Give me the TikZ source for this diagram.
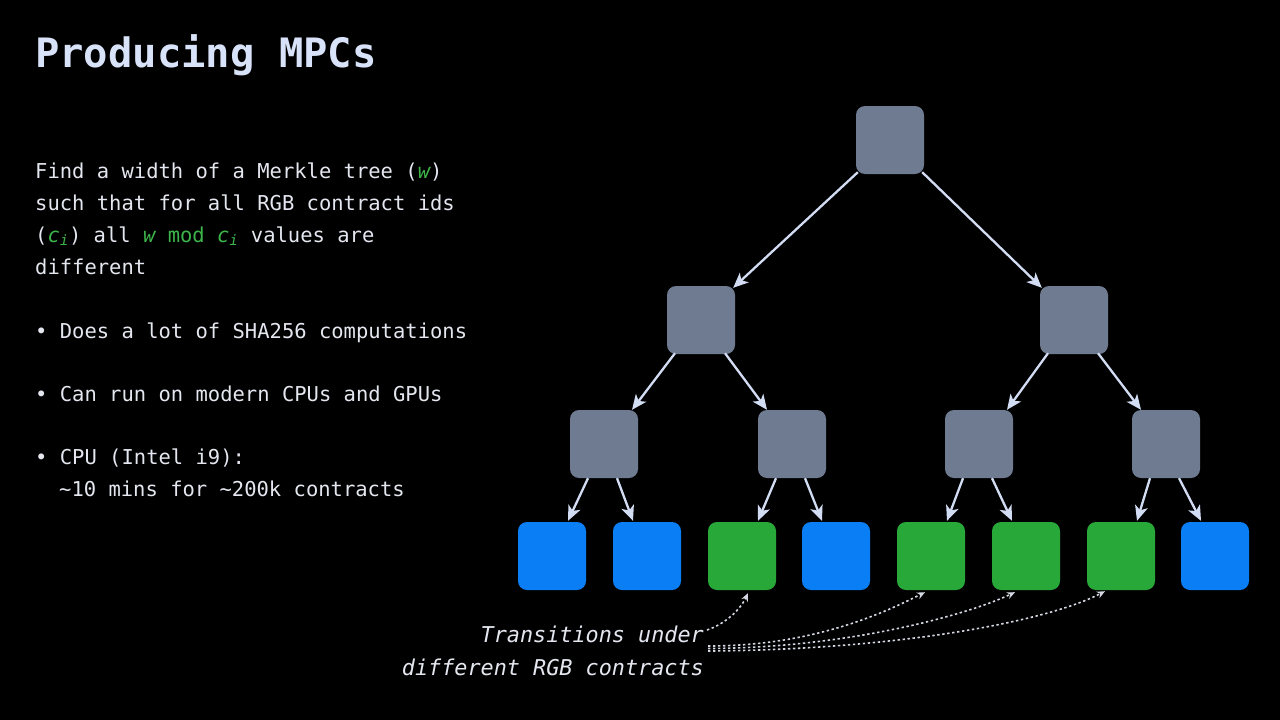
\documentclass[tikz,border=0pt]{standalone}
\usepackage{fontspec}
\setmonofont{DejaVu Sans Mono}
\usetikzlibrary{arrows.meta,calc}

\definecolor{titlec}{HTML}{D8E2F8}
\definecolor{bodyc}{HTML}{E4E7EF}
\definecolor{accentg}{HTML}{3DB54A}
\definecolor{boxgrey}{HTML}{6F7B91}
\definecolor{boxblue}{HTML}{0A7EF5}
\definecolor{boxgreen}{HTML}{29A83A}
\definecolor{edgec}{HTML}{D2DCF3}
\definecolor{dotc}{HTML}{D4D8E2}

% accented variables in the prose
\newcommand{\accw}{\textcolor{accentg}{\itshape w}}
\newcommand{\accc}{\textcolor{accentg}{\itshape c\textsubscript{i}}}

\begin{document}
\frenchspacing
\begin{tikzpicture}[x=1pt,y=-1pt,
  tbox/.style={minimum size=68pt, inner sep=0pt, rounded corners=9pt, draw=none},
  greybox/.style={tbox, fill=boxgrey},
  bluebox/.style={tbox, fill=boxblue},
  greenbox/.style={tbox, fill=boxgreen},
  edge/.style={draw=edgec, line width=2.3pt, -{Stealth[length=15pt,width=13pt,inset=4pt]}},
  dotarr/.style={draw=dotc, line width=1.6pt, dash pattern=on 2.4pt off 2.6pt,
    -{Stealth[length=8pt,width=7pt]}},
  titletext/.style={anchor=base west, inner sep=0pt, text=titlec,
    font=\ttfamily\bfseries\fontsize{40.5}{48}\selectfont},
  bodytext/.style={anchor=base west, inner sep=0pt, text=bodyc,
    font=\ttfamily\fontsize{20.5}{32}\selectfont},
  notetext/.style={anchor=base east, inner sep=0pt, text=bodyc,
    font=\ttfamily\itshape\fontsize{21.8}{33}\selectfont}]

\fill[black] (0,0) rectangle (1280,720);
\useasboundingbox (0,0) rectangle (1280,720);

% heading
\node[titletext] (title) at (35,67) {Producing MPCs};

% description
\node[bodytext] (p1) at (35,178) {Find a width of a Merkle tree (\accw)};
\node[bodytext] (p2) at (35,210) {such that for all RGB contract ids};
\node[bodytext] (p3) at (35,242) {(\accc) all \accw{} \textcolor{accentg}{mod} \accc{} values are};
\node[bodytext] (p4) at (35,274) {different};

% bullet points
\node[bodytext] (b1t) at (35,338) {• Does a lot of SHA256 computations};
\node[bodytext] (b2t) at (35,401) {• Can run on modern CPUs and GPUs};
\node[bodytext] (b3t) at (35,464) {• CPU (Intel i9):};
\node[bodytext] (b3u) at (59,496) {\textasciitilde10 mins for \textasciitilde200k contracts};

% Merkle tree
\node[greybox] (r) at (890,140) {};
\node[greybox] (a) at (701,320) {};
\node[greybox] (b) at (1074,320) {};
\node[greybox] (a1) at (604,444) {};
\node[greybox] (a2) at (792,444) {};
\node[greybox] (b1) at (979,444) {};
\node[greybox] (b2) at (1166,444) {};
\node[bluebox]  (l1) at (552,556) {};
\node[bluebox]  (l2) at (647,556) {};
\node[greenbox] (l3) at (742,556) {};
\node[bluebox]  (l4) at (836,556) {};
\node[greenbox] (l5) at (931,556) {};
\node[greenbox] (l6) at (1026,556) {};
\node[greenbox] (l7) at (1121,556) {};
\node[bluebox]  (l8) at (1215,556) {};

% tree edges
\draw[edge] ($(r.south west)+(2,-2)$) -- ($(a.north east)+(-2,2)$);
\draw[edge] ($(r.south east)+(-2,-2)$) -- ($(b.north west)+(2,2)$);
\foreach \p/\cl/\cr in {a/a1/a2, b/b1/b2}{
  \draw[edge] ($(\p.south)+(-26,-1)$) -- ($(\cl.north)+(28,0)$);
  \draw[edge] ($(\p.south)+(24,-1)$) -- ($(\cr.north)+(-25,0)$);
}
\foreach \p/\cl/\cr in {a1/l1/l2, a2/l3/l4, b1/l5/l6, b2/l7/l8}{
  \draw[edge] ($(\p.south)+(-16,0)$) -- ($(\cl.north)+(16,-1)$);
  \draw[edge] ($(\p.south)+(13,0)$) -- ($(\cr.north)+(-14,-1)$);
}

% annotation
\node[notetext] (n1) at (704,642) {Transitions under};
\node[notetext] (n2) at (704,675) {different RGB contracts};
\coordinate (tA) at (707,630);
\coordinate (tB1) at (708,646);
\coordinate (tB2) at (708,648.5);
\coordinate (tB3) at (708,651);
\draw[dotarr] (tA) .. controls (725,624) and (740,610) .. ($(l3.south)+(6,3)$);
\draw[dotarr] (tB1) .. controls (810,646) and (880,615) .. ($(l5.south)+(-6,2)$);
\draw[dotarr] (tB2) .. controls (840,648) and (960,618) .. ($(l6.south)+(-11,2)$);
\draw[dotarr] (tB3) .. controls (880,650) and (1040,625) .. ($(l7.south)+(-16,1)$);
\end{tikzpicture}
\end{document}
